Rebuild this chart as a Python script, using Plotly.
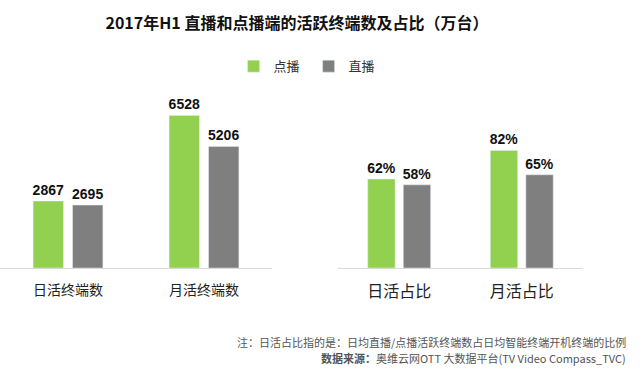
import plotly.graph_objects as go
from plotly.subplots import make_subplots

count_categories = ["日活终端数", "月活终端数"]
count_vod = [2867, 6528]
count_live = [2695, 5206]

share_categories = ["日活占比", "月活占比"]
share_vod = [62, 82]
share_live = [58, 65]

series_names = ["点播", "直播"]
green = "#92d050"
gray = "#7f7f7f"

title_text = "2017年H1 直播和点播端的活跃终端数及占比（万台）"
note_line1 = "注：日活占比指的是：日均直播/点播活跃终端数占日均智能终端开机终端的比例"
note_line2 = "数据来源：奥维云网OTT 大数据平台(TV Video Compass_TVC)"

label_font = dict(family="Liberation Sans Narrow, Liberation Sans", size=14, color="#111111", weight="bold")

fig = make_subplots(rows=1, cols=2)

common = dict(textposition="outside", textfont=label_font, cliponaxis=False, constraintext="none")
fig.add_trace(go.Bar(x=count_categories, y=count_vod, name=series_names[0], marker_color=green,
                     text=[str(v) for v in count_vod], legendgroup="a", **common), row=1, col=1)
fig.add_trace(go.Bar(x=count_categories, y=count_live, name=series_names[1], marker_color=gray,
                     text=[str(v) for v in count_live], legendgroup="b", **common), row=1, col=1)
fig.add_trace(go.Bar(x=share_categories, y=share_vod, name=series_names[0], marker_color=green,
                     text=[f"{v}%" for v in share_vod], showlegend=False, legendgroup="a", **common), row=1, col=2)
fig.add_trace(go.Bar(x=share_categories, y=share_live, name=series_names[1], marker_color=gray,
                     text=[f"{v}%" for v in share_live], showlegend=False, legendgroup="b", **common), row=1, col=2)

cjk = "Noto Sans CJK SC"
ydom = [0.2834, 0.818]

fig.update_layout(
    width=640, height=374,
    margin=dict(l=0, r=0, t=0, b=0, autoexpand=False),
    paper_bgcolor="white", plot_bgcolor="white",
    barmode="group", bargap=0.42, bargroupgap=0.23,
    font=dict(family=cjk, color="#333333"),
    title=dict(text="<b>" + title_text + "</b>", x=0.464, xanchor="center", y=0.938, yanchor="middle",
               font=dict(family=cjk, size=16, color="#111111")),
    legend=dict(orientation="h", x=0.365, y=0.823, xanchor="left", yanchor="middle",
                font=dict(family=cjk, size=13, color="#333333"), entrywidth=30,
                itemwidth=30, bgcolor="rgba(0,0,0,0)"),
    xaxis=dict(domain=[0.0, 0.425], range=[-0.5, 1.5], showline=True, linecolor="#d9d9d9", linewidth=1,
               ticks="", tickfont=dict(family=cjk, size=14, color="#222222"), ticklabelstandoff=9,
               automargin=False),
    xaxis2=dict(domain=[0.528, 0.911], range=[-0.5, 1.5], showline=True, linecolor="#d9d9d9", linewidth=1,
                ticks="", tickfont=dict(family=cjk, size=16, color="#222222"), ticklabelstandoff=9,
                automargin=False),
    yaxis=dict(domain=ydom, range=[0, 8558], visible=False, showgrid=False, automargin=False),
    yaxis2=dict(domain=ydom, range=[0, 139.4], visible=False, showgrid=False, automargin=False),
)

fig.add_annotation(text=note_line1, xref="paper", yref="paper", x=0.982, y=(374 - 342) / 374,
                   xanchor="right", yanchor="middle", showarrow=False,
                   font=dict(family=cjk, size=11, color="#555555"))
fig.add_annotation(text="<b>数据来源：</b>" + note_line2[5:], xref="paper", yref="paper", x=0.982, y=(374 - 358) / 374,
                   xanchor="right", yanchor="middle", showarrow=False,
                   font=dict(family=cjk, size=11, color="#555555"))

fig.write_html("out.html", config={"displayModeBar": False},
               post_script="document.body.style.margin='0';")
